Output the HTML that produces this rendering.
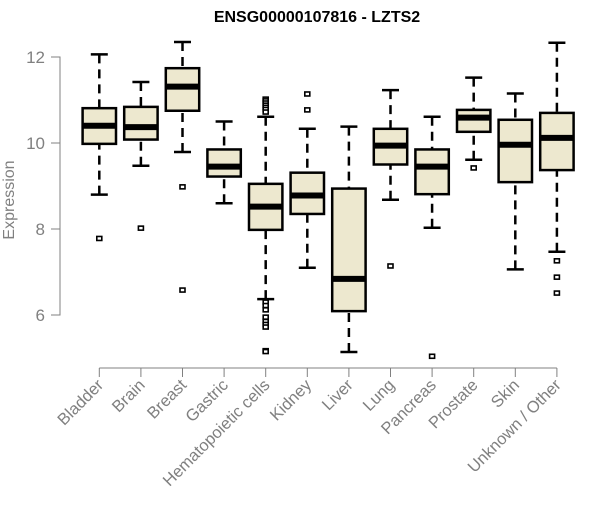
<!DOCTYPE html>
<html><head><meta charset="utf-8"><style>
body{margin:0;background:#fff}
svg text{font-family:"Liberation Sans",Arial,sans-serif}
</style></head><body>
<svg id="chart" width="600" height="500" xmlns="http://www.w3.org/2000/svg">
<text x="317" y="22" text-anchor="middle" font-weight="bold" font-size="16" fill="#000">ENSG00000107816 - LZTS2</text>
<text transform="translate(14,200) rotate(-90)" text-anchor="middle" font-size="16" fill="#808080">Expression</text>
<g id="axes"></g>
<g id="boxes"></g>
</svg>
<script>
const categories=["Bladder","Brain","Breast","Gastric","Hematopoietic cells","Kidney","Liver","Lung","Pancreas","Prostate","Skin","Unknown / Other"];
const whiskerLow=[8.80,9.47,9.79,8.60,6.37,7.10,5.14,8.68,8.03,9.61,7.06,7.47];
const q1=[9.98,10.08,10.75,9.22,7.98,8.35,6.09,9.50,8.81,10.26,9.09,9.37];
const medians=[10.40,10.37,11.31,9.45,8.52,8.78,6.84,9.94,9.45,10.59,9.96,10.12];
const q3=[10.81,10.84,11.74,9.85,9.05,9.31,8.94,10.33,9.85,10.77,10.54,10.70];
const whiskerHigh=[12.06,11.42,12.35,10.50,10.61,10.33,10.38,11.23,10.61,11.52,11.15,12.33];
const outliers=[[7.78],[8.02],[8.98,6.58],[],[11.02,10.98,10.93,10.88,10.83,10.78,10.72,6.30,6.22,6.12,5.95,5.85,5.78,5.72,5.17,5.15],[11.14,10.77],[],[7.14],[5.04],[9.42],[],[7.26,6.88,6.51]];
const yTicks=[6,8,10,12];
const NS="http://www.w3.org/2000/svg";
function y(v){return 57+(12-v)*43;}
function x(i){return 99.3+i*41.6;}
function mk(tag,attrs,parent){const e=document.createElementNS(NS,tag);for(const k in attrs)e.setAttribute(k,attrs[k]);parent.appendChild(e);return e;}
const axes=document.getElementById('axes'),boxes=document.getElementById('boxes');
const ya=mk('path',{d:`M51,${y(12)}H60V${y(6)}H51`,fill:'none',stroke:'#808080','stroke-width':1},axes);


yTicks.forEach(t=>{
  const tk=mk('line',{x1:51,x2:60,y1:y(t),y2:y(t),stroke:'#808080'},axes);
  
  
  const tl=mk('text',{x:45,y:y(t)+6,'text-anchor':'end','font-size':17,fill:'#808080'},axes);
  tl.textContent=t;
  
  
});
const xa=mk('line',{x1:x(0),x2:x(categories.length-1),y1:368,y2:368,stroke:'#808080'},axes);


categories.forEach((c,i)=>{
  const cx=x(i),hw=16.7;
  const tk=mk('line',{x1:cx,x2:cx,y1:368,y2:377,stroke:'#808080'},axes);
  
  
  const tl=mk('text',{transform:`translate(${cx+5},386) rotate(-45)`,'text-anchor':'end','font-size':16.5,fill:'#808080'},axes);
  tl.textContent=c;
  
  
  const g=mk('g',{},boxes);
  
  
  mk('line',{x1:cx,x2:cx,y1:y(whiskerHigh[i]),y2:y(q3[i]),stroke:'#000','stroke-width':2.5,'stroke-dasharray':'9,6'},g);
  mk('line',{x1:cx,x2:cx,y1:y(whiskerLow[i]),y2:y(q1[i]),stroke:'#000','stroke-width':2.5,'stroke-dasharray':'9,6'},g);
  mk('line',{x1:cx-8.5,x2:cx+8.5,y1:y(whiskerHigh[i]),y2:y(whiskerHigh[i]),stroke:'#000','stroke-width':2.5},g);
  mk('line',{x1:cx-8.5,x2:cx+8.5,y1:y(whiskerLow[i]),y2:y(whiskerLow[i]),stroke:'#000','stroke-width':2.5},g);
  mk('rect',{x:cx-hw,y:y(q3[i]),width:hw*2,height:y(q1[i])-y(q3[i]),fill:'#ede8cf',stroke:'#000','stroke-width':2.5},g);
  mk('line',{x1:cx-hw,x2:cx+hw,y1:y(medians[i]),y2:y(medians[i]),stroke:'#000','stroke-width':6},g);
  outliers[i].forEach(o=>{
    const p=mk('rect',{x:cx-2.5,y:y(o)-2,width:5,height:4,fill:'#fff',stroke:'#000','stroke-width':1.6},g);
    
    
  });
});
</script>
</body></html>
